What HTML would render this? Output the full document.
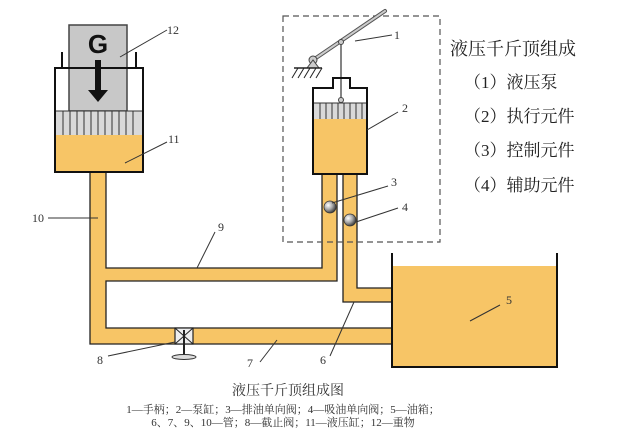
<!DOCTYPE html>
<html><head><meta charset="utf-8"><style>
html,body{margin:0;padding:0;background:#fff;width:640px;height:432px;overflow:hidden}
svg{display:block}
text{font-family:"Liberation Serif","Noto Serif CJK SC",serif;fill:#333}
</style></head><body>
<svg width="640" height="432" viewBox="0 0 640 432" xmlns="http://www.w3.org/2000/svg">
<defs>
<radialGradient id="ball" cx="0.35" cy="0.35" r="0.7"><stop offset="0" stop-color="#fff"/><stop offset="0.5" stop-color="#aaa"/><stop offset="1" stop-color="#333"/></radialGradient>
</defs>
<!-- pipes -->
<g fill="#f7c566" stroke="#222" stroke-width="1.3">
<path d="M90 172 H106 V268 H322 V174 H337 V281 H106 V328 H392 V344 H90 Z"/>
<path d="M343 174 H357 V288 H392 V302 H343 Z"/>
</g>
<!-- big cylinder -->
<rect x="69" y="25" width="58" height="86" fill="#c8c8c8" stroke="#444" stroke-width="1.5"/>
<path d="M62 52 V68 H55 V172 H143 V68 H136 V52" fill="none" stroke="#111" stroke-width="2"/>
<rect x="56" y="111" width="86" height="24" fill="#d9d9d9"/>
<g stroke="#333" stroke-width="1">
<line x1="56" y1="111" x2="142" y2="111"/>
<line x1="63" y1="111" x2="63" y2="135"/><line x1="70" y1="111" x2="70" y2="135"/><line x1="77" y1="111" x2="77" y2="135"/><line x1="84" y1="111" x2="84" y2="135"/><line x1="91" y1="111" x2="91" y2="135"/><line x1="98" y1="111" x2="98" y2="135"/><line x1="105" y1="111" x2="105" y2="135"/><line x1="112" y1="111" x2="112" y2="135"/><line x1="119" y1="111" x2="119" y2="135"/><line x1="126" y1="111" x2="126" y2="135"/><line x1="133" y1="111" x2="133" y2="135"/>
</g>
<rect x="56" y="135" width="86" height="37" fill="#f7c566"/>
<rect x="55" y="68" width="88" height="104" fill="none" stroke="#111" stroke-width="2"/>
<text x="98" y="53" text-anchor="middle" style="font-family:'Liberation Sans',sans-serif;font-weight:bold;font-size:26px;fill:#111">G</text>
<rect x="95" y="60" width="6" height="34" fill="#111"/>
<polygon points="88,90 108,90 98,102" fill="#111"/>
<!-- dashed box -->
<rect x="283" y="16" width="157" height="226" fill="none" stroke="#555" stroke-width="1.2" stroke-dasharray="6,4"/>
<!-- pump -->
<line x1="313" y1="60" x2="385" y2="11" stroke="#555" stroke-width="4" stroke-linecap="round"/>
<line x1="313" y1="60" x2="385" y2="11" stroke="#ccc" stroke-width="2" stroke-linecap="round"/>
<circle cx="313" cy="60" r="4" fill="#ccc" stroke="#444"/>
<polygon points="313,60 307,68 319,68" fill="#ccc" stroke="#444"/>
<line x1="294" y1="68" x2="322" y2="68" stroke="#222" stroke-width="1.5"/>
<g stroke="#222" stroke-width="1"><line x1="298" y1="68" x2="292" y2="78"/><line x1="304" y1="68" x2="298" y2="78"/><line x1="310" y1="68" x2="304" y2="78"/><line x1="316" y1="68" x2="310" y2="78"/><line x1="322" y1="68" x2="316" y2="78"/></g>
<line x1="341" y1="42" x2="341" y2="100" stroke="#333" stroke-width="1.2"/>
<circle cx="341" cy="42" r="2.5" fill="#ccc" stroke="#444"/>
<rect x="314" y="103" width="52" height="16" fill="#d9d9d9"/>
<g stroke="#333" stroke-width="1"><line x1="314" y1="103" x2="366" y2="103"/><line x1="320" y1="103" x2="320" y2="119"/><line x1="326" y1="103" x2="326" y2="119"/><line x1="332" y1="103" x2="332" y2="119"/><line x1="338" y1="103" x2="338" y2="119"/><line x1="344" y1="103" x2="344" y2="119"/><line x1="350" y1="103" x2="350" y2="119"/><line x1="356" y1="103" x2="356" y2="119"/><line x1="362" y1="103" x2="362" y2="119"/></g>
<circle cx="341" cy="100" r="2.5" fill="#ccc" stroke="#444"/>
<rect x="314" y="119" width="52" height="55" fill="#f7c566"/>
<path d="M313 174 V88 H333 V78 H350 V88 H367 V174 Z" fill="none" stroke="#111" stroke-width="2"/>
<circle cx="330" cy="207" r="6" fill="url(#ball)" stroke="#333" stroke-width="0.8"/>
<circle cx="350" cy="220" r="6" fill="url(#ball)" stroke="#333" stroke-width="0.8"/>
<!-- tank -->
<rect x="392" y="266" width="165" height="101" fill="#f7c566"/>
<path d="M392 253 V367 H557 V253" fill="none" stroke="#111" stroke-width="2"/>
<!-- valve 8 -->
<rect x="175" y="328" width="18" height="16" fill="#eee" stroke="#222" stroke-width="1.2"/>
<line x1="175" y1="328" x2="193" y2="344" stroke="#222"/><line x1="193" y1="328" x2="175" y2="344" stroke="#222"/>
<line x1="184" y1="330" x2="184" y2="357" stroke="#222" stroke-width="2"/>
<ellipse cx="184" cy="357" rx="12" ry="2.5" fill="#ddd" stroke="#333"/>
<!-- leader lines -->
<g stroke="#333" stroke-width="1" fill="none">
<line x1="120" y1="57" x2="167" y2="30"/>
<line x1="125" y1="163" x2="167" y2="142"/>
<line x1="48" y1="218" x2="98" y2="218"/>
<line x1="197" y1="268" x2="215" y2="232"/>
<line x1="355" y1="41" x2="392" y2="35"/>
<line x1="367" y1="130" x2="398" y2="112"/>
<line x1="332" y1="203" x2="388" y2="186"/>
<line x1="356" y1="222" x2="398" y2="208"/>
<line x1="470" y1="321" x2="500" y2="305"/>
<line x1="354" y1="302" x2="330" y2="356"/>
<line x1="260" y1="362" x2="277" y2="340"/>
<line x1="108" y1="356" x2="175" y2="342"/>
</g>
<g style="font-size:12px">
<text x="167" y="34">12</text><text x="168" y="143">11</text><text x="32" y="222">10</text>
<text x="218" y="231">9</text><text x="394" y="39">1</text><text x="402" y="112">2</text>
<text x="391" y="186">3</text><text x="402" y="211">4</text><text x="506" y="304">5</text>
<text x="320" y="364">6</text><text x="247" y="367">7</text><text x="97" y="364">8</text>
</g>
<!-- right text -->
<g style="font-size:17px;fill:#222">
<text x="450" y="55" style="font-size:18px;fill:#222">液压千斤顶组成</text>
<text x="464" y="88" style="fill:#222">（1）液压泵</text>
<text x="464" y="122" style="fill:#222">（2）执行元件</text>
<text x="464" y="156" style="fill:#222">（3）控制元件</text>
<text x="464" y="191" style="fill:#222">（4）辅助元件</text>
</g>
<!-- caption -->
<text x="288" y="395" text-anchor="middle" style="font-size:14px">液压千斤顶组成图</text>
<text x="283" y="413" text-anchor="middle" style="font-size:11px">1—手柄；2—泵缸；3—排油单向阀；4—吸油单向阀；5—油箱；</text>
<text x="283" y="426" text-anchor="middle" style="font-size:11px">6、7、9、10—管；8—截止阀；11—液压缸；12—重物</text>
</svg>
</body></html>
